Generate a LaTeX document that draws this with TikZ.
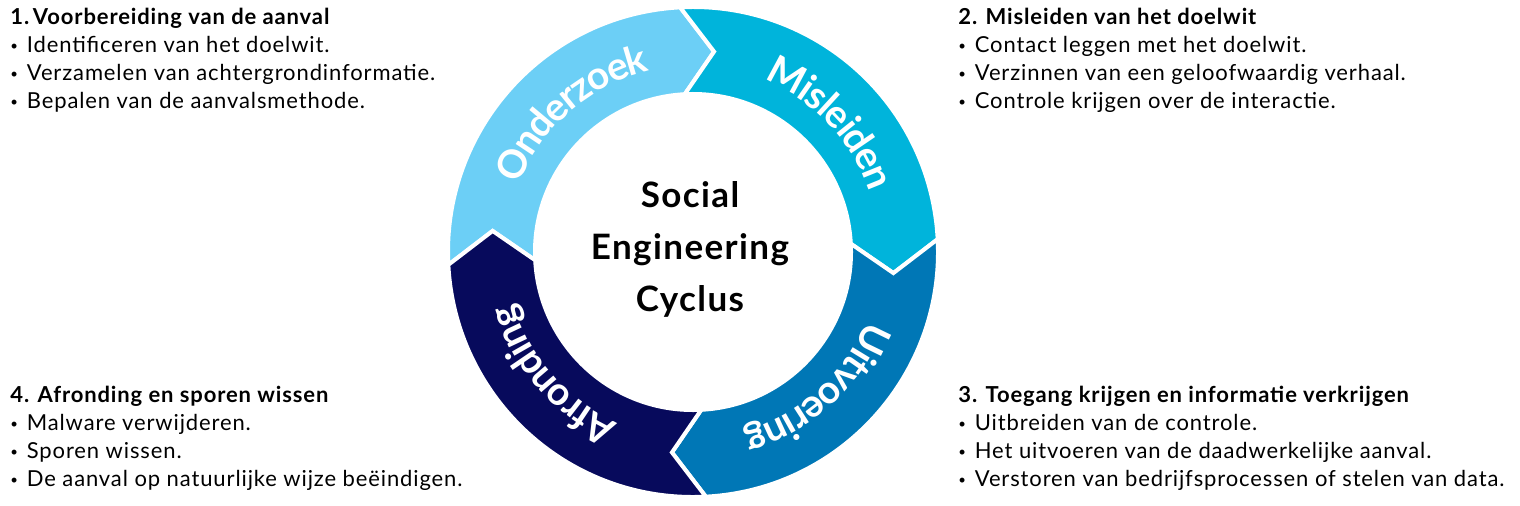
\documentclass[tikz,border=0pt]{standalone}
\usepackage{fontspec}
\setmainfont{Lato}[LetterSpace=4]
\usetikzlibrary{decorations.text}
\definecolor{cOnd}{HTML}{6CCFF6}
\definecolor{cMis}{HTML}{00B4DB}
\definecolor{cUit}{HTML}{0077B6}
\definecolor{cAfr}{HTML}{070A5C}
\newcommand{\bul}{\raisebox{.2ex}{\scalebox{.6}{\textbullet}}\hspace{.4em}}
% segment: start angle, end angle, colour
\newcommand{\cycseg}[3]{%
  \fill[#3,draw=white,line width=2pt] (#1:245) arc (#1:#2:245) -- ({#2-9}:201.5) -- (#2:158)
    arc (#2:#1:158) -- ({#1-9}:201.5) -- cycle;}
\newcommand{\cyclabel}[3]{%
  \path[decorate,decoration={text along path,text align=center,raise=-7.5pt,
    text={|\fontsize{19.5}{19.5}\bfseries\addfontfeature{LetterSpace=8}\color{white}|#3}}] (#1:201.5) arc (#1:#2:201.5);}
\begin{document}
\begin{tikzpicture}[x=0.5pt,y=0.5pt,
  block/.style={anchor=north west,align=left,font=\fontsize{11}{14}\selectfont,inner sep=0pt}]
  \useasboundingbox (0,0) rectangle (1520,505);
  \begin{scope}[shift={(693,253)}]
    \cycseg{183}{93}{cOnd}
    \cycseg{93}{3}{cMis}
    \cycseg{3}{-87}{cUit}
    \cycseg{-87}{-177}{cAfr}
    \cyclabel{178}{84}{Onderzoek}
    \cyclabel{90}{-4}{Misleiden}
    \cyclabel{-1}{-95}{Uitvoering}
    \cyclabel{-92}{-186}{Afronding}
    \node[align=center,font=\fontsize{17.5}{26}\selectfont\bfseries] (title) at (-3,3)
      {Social\\Engineering\\Cyclus};
  \end{scope}
  \node[block] (prep) at (10,497) {\textbf{1.\,Voorbereiding van de aanval}\\
    \bul Identificeren van het doelwit.\\
    \bul Verzamelen van achtergrondinformatie.\\
    \bul Bepalen van de aanvalsmethode.};
  \node[block] (mis) at (958,497) {\textbf{2. Misleiden van het doelwit}\\
    \bul Contact leggen met het doelwit.\\
    \bul Verzinnen van een geloofwaardig verhaal.\\
    \bul Controle krijgen over de interactie.};
  \node[block] (acc) at (958,119) {\textbf{3. Toegang krijgen en informatie verkrijgen}\\
    \bul Uitbreiden van de controle.\\
    \bul Het uitvoeren van de daadwerkelijke aanval.\\
    \bul Verstoren van bedrijfsprocessen of stelen van data.};
  \node[block] (fin) at (10,119) {\textbf{4. Afronding en sporen wissen}\\
    \bul Malware verwijderen.\\
    \bul Sporen wissen.\\
    \bul De aanval op natuurlijke wijze beëindigen.};
\end{tikzpicture}
\end{document}
